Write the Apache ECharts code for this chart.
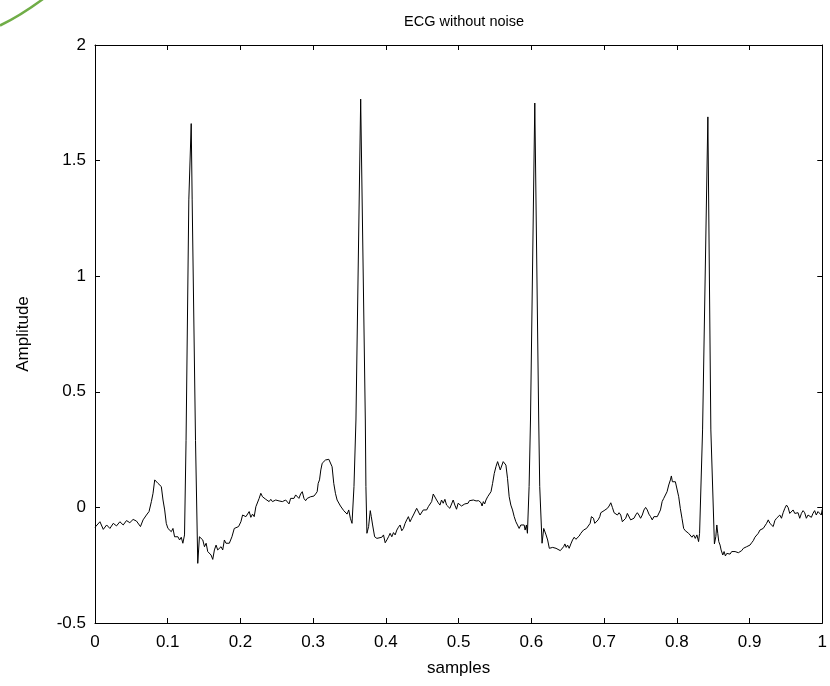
<!DOCTYPE html>
<html>
<head>
<meta charset="utf-8">
<script src="https://cdn.jsdelivr.net/npm/echarts@6/dist/echarts.min.js"></script>
<style>html,body{margin:0;padding:0;background:#fff;}#chart{width:830px;height:686px;}</style>
</head>
<body>
<div id="chart"></div>
<script>
const titleText = 'ECG without noise';
const xName = 'samples';
const yName = 'Amplitude';

const samples = [
0,0.0068,0.0114,0.016,0.0205,0.0251,0.0296,0.0342,0.0388,0.0433,0.0479,0.0524,0.057,0.0593,0.0625,0.0661,0.0707,0.0743,0.0775,0.0798,
0.0821,0.0844,0.0866,0.0889,0.0912,0.0935,0.0958,0.098,0.1003,0.1026,0.1049,0.1072,0.1094,0.1117,0.114,0.1163,0.1186,0.1208,0.1231,
0.1252,0.129,0.1323,0.1336,0.1382,0.1413,
0.1436,0.1459,0.1482,0.1505,0.1528,0.155,0.1573,0.1596,0.1619,0.1642,0.1665,0.1687,0.171,0.1733,0.1756,0.1779,0.1801,0.1824,0.1847,0.1883,
0.1915,0.1938,0.1974,0.2006,0.2029,0.2052,0.2075,0.2098,0.212,0.2143,0.2166,0.2189,0.2212,0.2234,0.2257,0.228,0.2303,0.2326,0.2348,0.2371,
0.2394,0.2417,0.244,0.2485,0.2531,0.2554,0.2576,0.2599,0.2622,0.2645,0.2668,0.269,0.2713,0.2736,0.2759,0.2782,0.2804,0.2827,0.285,0.2873,
0.2896,0.2918,0.2941,0.2964,0.2987,0.301,0.3033,0.3055,0.3069,0.3087,0.3105,0.3124,0.3146,0.3169,0.3192,0.3215,0.3238,0.326,0.3283,0.3306,
0.3329,0.3352,0.3375,0.3397,0.342,0.3443,0.3466,0.3489,0.3511,0.3534,
0.3561,0.3588,0.3653,0.3717,0.3725,0.3739,
0.3762,0.3785,0.3799,0.3817,0.3845,0.3876,0.3899,0.3944,0.3967,0.399,0.4013,0.4036,0.4058,0.4081,0.4104,0.4127,0.415,0.4172,0.4195,0.4218,
0.4241,0.4264,0.4286,0.4309,0.4332,0.4355,0.4378,0.44,0.4423,0.4446,0.4469,0.4492,0.4514,0.4537,0.456,0.4583,0.4606,0.4629,0.4651,0.4674,
0.4697,0.472,0.4743,0.4765,0.4788,0.4811,0.4834,0.4857,0.4879,0.4902,0.4925,0.4948,0.4971,0.4993,0.5016,0.5039,0.5085,0.513,0.5148,0.5171,
0.5203,0.524,0.5276,0.5308,0.5322,0.534,0.5358,0.5376,0.5399,0.5422,0.5445,0.5467,0.549,0.5513,0.5536,0.5559,0.5572,0.5595,0.5613,0.5631,
0.565,0.5672,0.5695,0.5718,0.5741,0.5764,0.5787,0.5809,0.5832,0.5855,0.5878,0.5901,0.5914,0.5932,0.5946,
0.5969,0.5988,0.6047,0.6101,0.6115,0.6147,
0.617,0.6188,0.6202,0.6224,0.6247,0.627,0.6293,0.6316,0.6339,0.6361,0.6398,0.6416,0.6443,0.6461,0.6479,0.6498,0.652,0.6543,0.6566,0.6589,
0.6612,0.6635,0.6657,0.668,0.6717,0.6735,0.6758,0.6781,0.6808,0.6826,0.6854,0.6872,0.6895,0.6918,0.6941,0.6955,0.6977,0.7,0.7023,0.7046,
0.7069,0.7092,0.7114,0.7137,0.716,0.7183,0.7206,0.7229,0.7251,0.7274,0.7297,0.732,0.7343,0.7365,0.7388,0.7411,0.7434,0.7457,0.7479,0.7502,
0.7525,0.7548,0.7571,0.7594,0.7616,0.7639,0.7662,0.7685,0.7708,0.7731,0.7752,0.7775,0.7798,0.782,0.7843,0.7866,0.7889,0.7912,0.7925,0.7939,
0.7957,0.798,0.8003,0.8026,0.8048,0.8071,0.8094,0.8117,0.814,0.8162,0.8185,0.8208,0.8231,0.8254,0.8276,0.8299,0.8313,
0.8354,0.8427,0.8468,0.8517,
0.8536,0.855,0.8563,0.8577,0.8595,0.8609,0.8632,0.865,0.8668,0.8687,0.8709,0.8732,0.8755,0.8778,0.8801,0.8823,0.8846,0.8869,0.8892,0.8915,
0.8937,0.896,0.8983,0.9006,0.9029,0.9051,0.9074,0.9097,0.912,0.9143,0.9165,0.9188,0.9211,0.9234,0.9257,0.928,0.9302,0.9325,0.9348,0.9371,
0.9394,0.9416,0.9439,0.9462,0.9485,0.9508,0.953,0.9553,0.9576,0.9599,0.9622,0.9644,0.9667,0.969,0.9713,0.9736,0.9758,0.9781,0.9804,0.9827,
0.985,0.9872,0.9895,0.9918,0.9941,0.9964,0.9986,1.0
];

const amplitude = [
-0.086,-0.062,-0.095,-0.076,-0.091,-0.069,-0.080,-0.062,-0.076,-0.057,-0.066,-0.052,-0.059,-0.052,-0.083,-0.054,-0.033,-0.018,0.025,0.061,
0.119,0.126,0.104,0.107,0.090,0.032,-0.011,-0.069,-0.091,-0.083,-0.105,-0.091,-0.127,-0.134,-0.127,-0.141,-0.129,-0.155,-0.119,
0.29,1.33,1.66,1.33,0.29,-0.242,
-0.127,-0.119,-0.141,-0.170,-0.155,-0.191,-0.184,-0.206,-0.225,-0.184,-0.163,-0.184,-0.191,-0.170,-0.184,-0.141,-0.155,-0.148,-0.155,-0.127,
-0.091,-0.095,-0.083,-0.062,-0.033,-0.037,-0.040,-0.033,-0.018,-0.043,-0.029,-0.040,0.003,0.010,0.039,0.061,0.046,0.054,0.035,0.039,
0.025,0.035,0.025,0.032,0.028,0.032,0.025,0.029,0.032,0.039,0.015,0.039,0.046,0.039,0.054,0.046,0.039,0.058,0.068,0.039,
0.029,0.039,0.032,0.046,0.054,0.049,0.058,0.068,0.104,0.119,0.162,0.191,0.198,0.205,0.208,0.208,0.212,0.176,0.104,0.061,
0.032,0.025,0.006,0.000,-0.014,-0.011,-0.029,-0.011,-0.047,-0.069,
0.09,0.378,1.766,0.378,0.09,-0.112,
-0.083,-0.014,-0.040,-0.076,-0.127,-0.134,-0.127,-0.129,-0.119,-0.153,-0.141,-0.127,-0.112,-0.127,-0.109,-0.119,-0.098,-0.086,-0.076,-0.101,
-0.091,-0.069,-0.054,-0.040,-0.062,-0.047,-0.033,-0.026,-0.004,-0.011,-0.033,-0.026,-0.011,-0.004,-0.011,0.003,0.010,0.025,0.058,0.054,
0.032,0.020,0.010,0.032,0.018,0.035,0.010,0.010,-0.004,-0.008,0.032,0.010,-0.008,0.018,0.025,0.006,0.015,0.018,0.029,0.029,
0.032,0.028,0.029,0.020,0.006,0.025,0.015,0.032,0.046,0.049,0.068,0.104,0.147,0.176,0.198,0.191,0.162,0.169,0.198,0.205,
0.183,0.126,0.046,0.010,-0.011,-0.040,-0.062,-0.076,-0.091,-0.076,-0.083,-0.076,-0.098,-0.076,-0.112,
0.09,0.378,1.749,0.378,0.09,-0.155,
-0.091,-0.098,-0.119,-0.141,-0.177,-0.181,-0.173,-0.181,-0.177,-0.184,-0.187,-0.181,-0.170,-0.158,-0.173,-0.163,-0.177,-0.158,-0.141,-0.129,
-0.138,-0.141,-0.124,-0.112,-0.098,-0.105,-0.091,-0.098,-0.069,-0.040,-0.047,-0.069,-0.076,-0.054,-0.040,-0.023,-0.026,-0.014,-0.018,-0.004,
0.006,0.020,0.000,-0.023,-0.018,-0.033,-0.023,-0.033,-0.062,-0.069,-0.047,-0.026,-0.033,-0.054,-0.062,-0.047,-0.033,-0.023,-0.033,-0.047,
-0.033,-0.011,0.000,-0.011,-0.029,-0.040,-0.054,-0.040,-0.033,-0.040,-0.033,-0.011,0.025,0.039,0.044,0.068,0.097,0.119,0.136,0.111,
0.119,0.111,0.107,0.046,-0.004,-0.047,-0.091,-0.101,-0.105,-0.112,-0.119,-0.129,-0.119,-0.134,-0.119,-0.148,-0.112,
0.335,1.689,0.335,-0.158,
-0.127,-0.076,-0.112,-0.148,-0.163,-0.184,-0.206,-0.191,-0.210,-0.199,-0.206,-0.202,-0.191,-0.196,-0.191,-0.199,-0.196,-0.199,-0.187,-0.177,
-0.184,-0.170,-0.173,-0.163,-0.153,-0.144,-0.129,-0.134,-0.112,-0.098,-0.105,-0.091,-0.098,-0.069,-0.054,-0.069,-0.062,-0.083,-0.057,-0.047,
-0.052,-0.033,-0.047,-0.023,-0.004,0.010,0.000,-0.026,-0.018,-0.011,-0.026,-0.033,-0.023,-0.047,-0.026,-0.014,-0.023,-0.047,-0.033,-0.029,
-0.043,-0.026,-0.014,-0.033,-0.018,-0.011,-0.033,-0.008
];

const xMin = 0, xMax = 1, xStep = 0.1;
const yMin = -0.5, yMax = 2, yStep = 0.5;

const points = samples.map((x, i) => [x, amplitude[i]]);
const FONT = 'Liberation Sans, Arial, sans-serif';

const chart = echarts.init(document.getElementById('chart'), null, {renderer: 'canvas'});

function axisBase(extra) {
  return Object.assign({
    type: 'value',
    axisLine: {show: true, onZero: false, lineStyle: {color: '#000', width: 1}},
    axisTick: {show: true, inside: true, length: 5, lineStyle: {color: '#000', width: 1}},
    splitLine: {show: false},
    axisLabel: {show: false}
  }, extra);
}

chart.setOption({
  animation: false,
  backgroundColor: '#fff',
  title: {
    text: titleText,
    left: 399,
    top: 9,
    textStyle: {fontFamily: FONT, fontSize: 14.5, fontWeight: 'normal', color: '#000'}
  },
  grid: {left: 95, right: 4, top: 45, bottom: 63, containLabel: false},
  xAxis: [
    axisBase({
      min: xMin, max: xMax, interval: xStep, position: 'bottom',
      axisLabel: {show: true, color: '#000', fontSize: 17, fontFamily: FONT, margin: 11},
      name: xName, nameLocation: 'middle', nameGap: 37,
      nameTextStyle: {color: '#000', fontSize: 17, fontFamily: FONT}
    }),
    axisBase({min: xMin, max: xMax, interval: xStep, position: 'top'})
  ],
  yAxis: [
    axisBase({
      min: yMin, max: yMax, interval: yStep, position: 'left',
      axisLabel: {show: true, color: '#000', fontSize: 17, fontFamily: FONT, margin: 9},
      name: yName, nameLocation: 'middle', nameGap: 63,
      nameTextStyle: {color: '#000', fontSize: 17, fontFamily: FONT}
    }),
    axisBase({min: yMin, max: yMax, interval: yStep, position: 'right'})
  ],
  graphic: [{
    type: 'bezierCurve',
    shape: {x1: 0, y1: 25.5, x2: 43, y2: -1, cpx1: 20, cpy1: 16},
    style: {stroke: '#70AD47', lineWidth: 2.5, fill: null},
    silent: true
  }],
  series: [{
    type: 'line',
    data: points,
    xAxisIndex: 0,
    yAxisIndex: 0,
    showSymbol: false,
    symbol: 'none',
    lineStyle: {color: '#000', width: 1},
    clip: true
  }]
});
</script>
</body>
</html>
